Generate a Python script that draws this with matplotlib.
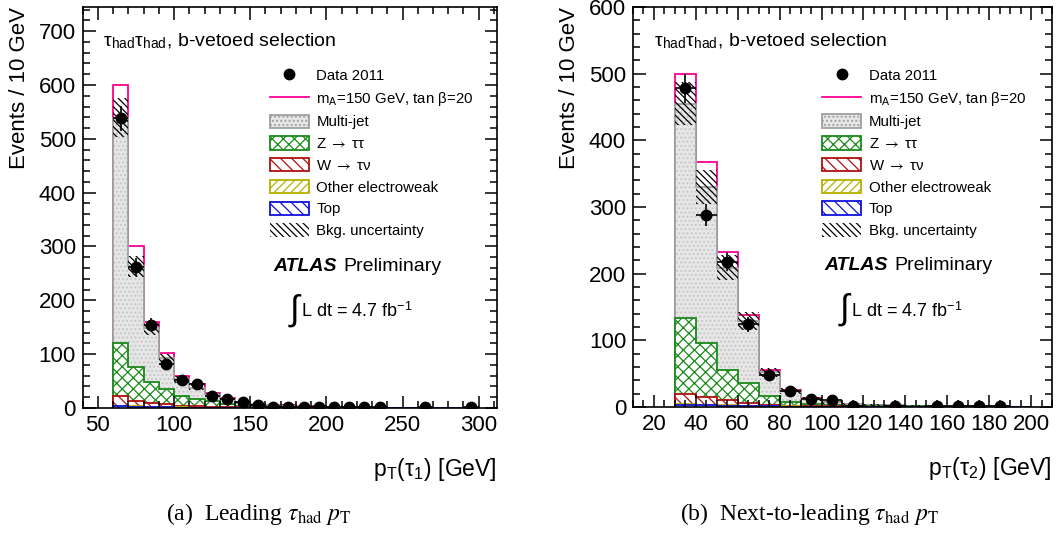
import numpy as np
import matplotlib
matplotlib.use('Agg')
import matplotlib.pyplot as plt
from matplotlib.patches import Patch
from matplotlib.lines import Line2D
from matplotlib.ticker import MultipleLocator

plt.rcParams['font.family'] = ['Liberation Sans', 'DejaVu Sans']
plt.rcParams['mathtext.fontset'] = 'stix'
plt.rcParams['hatch.linewidth'] = 0.9

# ---- (a) leading tau pT, 10 GeV bins starting at 60 GeV
edges1 = np.arange(60, 310, 10)
data1 = [538, 262, 155, 82, 52, 45, 23, 16, 12, 6, 2, 2, 2, 2, 2, 1, 1, 1,
         np.nan, np.nan, 1, np.nan, np.nan, 1]
multijet1 = [419, 187, 100, 57, 30, 21, 13, 9, 5.5, 4, 3, 2.5, 1.8, 1.5, 1.2, 0.9,
             0.7, 0.6, 0.5, 0.5, 0.4, 0.3, 0.3, 0.2]
ztt1 = [99, 63, 39, 28, 19, 14, 10, 5.5, 3.3, 2.1, 1.2, 1.0, 0.8, 0.7, 0.6, 0.5,
        0.4, 0.3, 0.2, 0.2, 0.2, 0.1, 0.1, 0.1]
wtn1 = [17, 10, 7, 5.5, 3, 2, 1.5, 1, 0.8, 0.6, 0.5, 0.4, 0.3, 0.2, 0.2, 0.1,
        0.1, 0.1, 0.1, 0.1, 0, 0, 0, 0]
ew1 = [1.5, 1, 0.8, 0.6, 0.4, 0.3, 0.2, 0.2, 0.1, 0.1, 0.1, 0.1, 0, 0, 0, 0,
       0, 0, 0, 0, 0, 0, 0, 0]
top1 = [3, 2, 1.5, 1, 0.8, 0.6, 0.5, 0.4, 0.3, 0.2, 0.2, 0.1, 0.1, 0.1, 0.1, 0.1,
        0, 0, 0, 0, 0, 0, 0, 0]
signal1 = [60, 37, 12, 10, 7, 6, 3, 2, 1.5, 1, 0.8, 0.6, 0.5, 0.4, 0.3, 0.3,
           0.2, 0.2, 0.1, 0.1, 0.1, 0.1, 0.1, 0.1]
unc1 = [36, 20, 12, 9, 7, 4, 3, 2, 1.5, 1.2, 1, 0.9, 0.8, 0.7, 0.6, 0.5,
        0.5, 0.4, 0.4, 0.3, 0.3, 0.3, 0.2, 0.2]

# ---- (b) next-to-leading tau pT, 10 GeV bins starting at 30 GeV
edges2 = np.arange(30, 210, 10)
data2 = [478, 288, 218, 124, 48, 24, 12, 10, 1, np.nan, 1, np.nan, 1, 1, 1, 1, np.nan]
multijet2 = [322, 234.5, 154, 93.5, 36, 17, 8, 4, 2, 1.5, 1.5, 1.2, 0.9, 0.7, 0.6, 0.5, 0.3]
ztt2 = [114, 80.5, 45, 30, 13, 5, 2.5, 2, 1.3, 1, 0.6, 0.5, 0.4, 0.3, 0.3, 0.2, 0.1]
wtn2 = [15, 11.5, 7.2, 3.5, 1.7, 1.2, 1.0, 0.6, 0.4, 0.3, 0.3, 0.2, 0.1, 0.1, 0.1, 0.1, 0.1]
ew2 = [1, 1, 0.8, 0.5, 0.3, 0.2, 0.1, 0.1, 0.1, 0, 0, 0, 0, 0, 0, 0, 0]
top2 = [3, 2.5, 2, 1.5, 1, 0.6, 0.4, 0.3, 0.2, 0.2, 0.1, 0.1, 0.1, 0.1, 0, 0, 0]
signal2 = [45, 38, 23, 9, 3, 1.5, 1, 0.5, 0.4, 0.3, 0.2, 0.2, 0.1, 0.1, 0.1, 0.1, 0.1]
unc2 = [32, 25, 19, 14, 7, 4, 3, 2, 1.5, 1, 0.8, 0.7, 0.6, 0.5, 0.4, 0.3, 0.3]

PINK = '#ff0090'
GREEN = '#1a8a1a'
RED = '#b01010'
YELLOW = '#b8b000'
BLUE = '#1010dd'
GREY_FILL = '#e6e6e6'
GREY_DOT = '#c6c6c6'
GREY_LINE = '#a0a0a0'

labels = ['Data 2011', r'm$_{\mathregular{A}}$=150 GeV, tan β=20', 'Multi-jet',
          r'Z $\rightarrow$ ττ', r'W $\rightarrow$ τν', 'Other electroweak', 'Top',
          'Bkg. uncertainty']


def draw_panel(ax, edges, data, mj, ztt, wtn, ew, top, sig, unc):
    cum = np.cumsum([top, ew, wtn, ztt, mj], axis=0)
    total = cum[-1]
    centers = 0.5 * (edges[:-1] + edges[1:])

    # signal stacked on top of background
    ax.stairs(total + np.array(sig), edges, baseline=0, color=PINK, lw=1.3)
    # multi-jet
    ax.stairs(total, edges, baseline=0, fill=True, facecolor=GREY_FILL,
              edgecolor=GREY_DOT, hatch='....', lw=0)
    ax.stairs(total, edges, baseline=0, color=GREY_LINE, lw=1.3)
    # Z, W, other EW, top
    ax.stairs(cum[3], edges, baseline=0, fill=True, facecolor='white',
              edgecolor=GREEN, hatch='xxx', lw=1.3)
    ax.stairs(cum[2], edges, baseline=0, fill=True, facecolor='white',
              edgecolor=RED, hatch='\\\\\\', lw=1.3)
    ax.stairs(cum[1], edges, baseline=0, fill=True, facecolor='white',
              edgecolor=YELLOW, hatch='////', lw=1.3)
    ax.stairs(cum[0], edges, baseline=0, fill=True, facecolor='white',
              edgecolor=BLUE, hatch='\\\\\\', lw=1.3)
    # background uncertainty band
    unc = np.array(unc)
    ax.bar(centers, 2 * unc, bottom=total - unc, width=np.diff(edges),
           facecolor='none', edgecolor='black', hatch='\\\\\\\\\\', lw=0)
    # data
    d = np.array(data, dtype=float)
    ok = ~np.isnan(d)
    ax.errorbar(centers[ok], d[ok], yerr=np.sqrt(d[ok]), xerr=5, fmt='o',
                color='black', ms=7.5, elinewidth=1.2, capsize=0, zorder=5)

    handles = [
        Line2D([], [], marker='o', ls='none', color='black', ms=7.5),
        Line2D([], [], color=PINK, lw=1.3),
        Patch(facecolor=GREY_FILL, edgecolor=GREY_LINE, hatch='....', lw=1.3),
        Patch(facecolor='white', edgecolor=GREEN, hatch='xxx', lw=1.3),
        Patch(facecolor='white', edgecolor=RED, hatch='\\\\\\', lw=1.3),
        Patch(facecolor='white', edgecolor=YELLOW, hatch='////', lw=1.3),
        Patch(facecolor='white', edgecolor=BLUE, hatch='\\\\\\', lw=1.3),
        Patch(facecolor='none', edgecolor='black', hatch='\\\\\\\\\\', lw=0),
    ]
    return handles


def style_axes(ax):
    ax.tick_params(which='both', direction='in', top=True, right=True,
                   labelsize=16, pad=5, width=1.1)
    ax.tick_params(which='major', length=9)
    ax.tick_params(which='minor', length=5)
    for s in ax.spines.values():
        s.set_linewidth(1.2)


fig = plt.figure(figsize=(10.56, 5.35), dpi=100)
ax1 = fig.add_axes([0.0783, 0.2374, 0.3923, 0.7496])
ax2 = fig.add_axes([0.5994, 0.2393, 0.3968, 0.7477])

panels = [
    (ax1, edges1, data1, multijet1, ztt1, wtn1, ew1, top1, signal1, unc1),
    (ax2, edges2, data2, multijet2, ztt2, wtn2, ew2, top2, signal2, unc2),
]
for args in panels:
    ax = args[0]
    handles = draw_panel(*args)
    style_axes(ax)
    ax.legend(handles, labels, loc='upper left', bbox_to_anchor=(0.452, 0.848),
              frameon=False, fontsize=10.8, handlelength=2.6, handleheight=1.0,
              labelspacing=0.46, handletextpad=0.5, borderaxespad=0, borderpad=0)
    ax.text(0.05, 0.915, r'τ$_{\mathregular{had}}$τ$_{\mathregular{had}}$, b-vetoed selection',
            transform=ax.transAxes, fontsize=14, va='center')
    ax.set_ylabel('Events / 10 GeV', fontsize=16, loc='top')

# axis ranges, ticks, labels
ax1.set_xlim(40, 312)
ax1.set_ylim(0, 745)
ax1.xaxis.set_major_locator(MultipleLocator(50))
ax1.xaxis.set_minor_locator(MultipleLocator(10))
ax1.yaxis.set_major_locator(MultipleLocator(100))
ax1.yaxis.set_minor_locator(MultipleLocator(20))
ax1.set_xlabel(r'p$_{\mathregular{T}}$(τ$_{\mathregular{1}}$) [GeV]', fontsize=16.5, loc='right')
ax1.xaxis.set_label_coords(1.0, -0.12)
ax1.yaxis.set_label_coords(-0.127, 1.0)

ax2.set_xlim(10, 210)
ax2.set_ylim(0, 600)
ax2.xaxis.set_major_locator(MultipleLocator(20))
ax2.xaxis.set_minor_locator(MultipleLocator(5))
ax2.yaxis.set_major_locator(MultipleLocator(100))
ax2.yaxis.set_minor_locator(MultipleLocator(20))
ax2.set_xlabel(r'p$_{\mathregular{T}}$(τ$_{\mathregular{2}}$) [GeV]', fontsize=16.5, loc='right')
ax2.xaxis.set_label_coords(1.0, -0.12)
ax2.yaxis.set_label_coords(-0.126, 1.0)

# ATLAS label and luminosity
for ax, xa, xp, xi in [(ax1, 0.46, 0.629, 0.50), (ax2, 0.458, 0.623, 0.494)]:
    ax.text(xa, 0.353, 'ATLAS', transform=ax.transAxes, fontsize=14,
            fontweight='bold', fontstyle='italic', va='center')
    ax.text(xp, 0.353, 'Preliminary', transform=ax.transAxes, fontsize=14, va='center')
    ax.text(xi, 0.244, '∫', transform=ax.transAxes, fontsize=25, va='center')
    ax.text(xi + 0.026, 0.24, r'L dt = 4.7 fb$^{\mathregular{-1}}$', transform=ax.transAxes,
            fontsize=13, va='center')

# sub-captions
fig.text(0.245, 0.04, r'(a)  Leading $\tau_{\mathrm{had}}$ $p_{\mathrm{T}}$',
         family='Liberation Serif', fontsize=17, ha='center', va='center')
fig.text(0.767, 0.04, r'(b)  Next-to-leading $\tau_{\mathrm{had}}$ $p_{\mathrm{T}}$',
         family='Liberation Serif', fontsize=17, ha='center', va='center')

fig.savefig('out.png', dpi=100)
